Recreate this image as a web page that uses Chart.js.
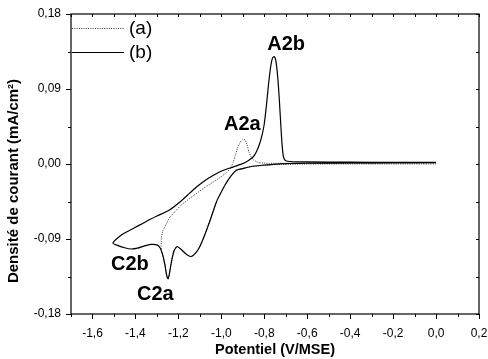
<!DOCTYPE html>
<html><head><meta charset="utf-8">
<script src="https://cdn.jsdelivr.net/npm/chart.js@4.4.0/dist/chart.umd.min.js"></script>
<style>html,body{margin:0;padding:0;background:#fff}#wrap{width:488px;height:359px}</style>
</head><body><div id="wrap"><canvas id="c" width="488" height="359"></canvas></div>
<script>
// ---- data ----
const seriesLabels = ['(a)', '(b)'];

// Curve (a): dotted, vertex near -1.28 V
const aPotential = [0.000,-0.300,-0.600,-0.720,-0.800,-0.860,-0.900,-0.930,-0.960,-0.980,-1.005,-1.022,-1.050,-1.077,-1.100,-1.120,-1.140,-1.160,-1.185,-1.206,-1.220,-1.232,-1.242,-1.248,-1.255,-1.262,-1.272,-1.280,
  -1.279,-1.272,-1.258,-1.240,-1.215,-1.190,-1.130,-1.070,-1.010,-0.975,-0.955,-0.945,-0.935,-0.925,-0.912,-0.900,-0.890,-0.880,-0.872,-0.862,-0.850,-0.830,-0.800,-0.600,-0.300,0.000];
const aCurrent = [0.0002,0.0002,0.0000,-0.0004,-0.0015,-0.0030,-0.0055,-0.0075,-0.0160,-0.0240,-0.0360,-0.0450,-0.0660,-0.0850,-0.0990,-0.1070,-0.1110,-0.1090,-0.1030,-0.0990,-0.1040,-0.1170,-0.1320,-0.1380,-0.1330,-0.1220,-0.1100,-0.1025,
  -0.0890,-0.0800,-0.0730,-0.0640,-0.0570,-0.0500,-0.0380,-0.0270,-0.0170,-0.0100,-0.0040,0.0020,0.0100,0.0190,0.0260,0.0300,0.0290,0.0230,0.0150,0.0090,0.0050,0.0020,0.0010,0.0006,0.0004,0.0004];

// Curve (b): solid, vertex near -1.50 V
const bPotential = [0.000,-0.200,-0.400,-0.600,-0.700,-0.760,-0.810,-0.860,-0.900,-0.930,-0.960,-0.980,-1.005,-1.022,-1.050,-1.077,-1.100,-1.120,-1.140,-1.160,-1.185,-1.206,-1.220,-1.232,-1.242,-1.248,-1.255,-1.262,-1.272,-1.284,-1.300,-1.330,-1.360,-1.390,-1.420,-1.450,-1.480,-1.505,
  -1.470,-1.430,-1.400,-1.350,-1.300,-1.240,-1.190,-1.147,-1.110,-1.069,-1.030,-0.990,-0.950,-0.910,-0.875,-0.850,-0.836,-0.822,-0.810,-0.800,-0.790,-0.780,-0.770,-0.762,-0.754,-0.746,-0.738,-0.730,-0.723,-0.717,-0.710,-0.700,-0.680,-0.600,-0.400,-0.200,0.000];
const bCurrent = [0.0018,0.0016,0.0013,0.0009,0.0004,-0.0004,-0.0015,-0.0030,-0.0055,-0.0075,-0.0160,-0.0240,-0.0360,-0.0450,-0.0660,-0.0850,-0.0990,-0.1070,-0.1110,-0.1090,-0.1030,-0.0990,-0.1040,-0.1170,-0.1320,-0.1380,-0.1330,-0.1220,-0.1100,-0.1010,-0.0970,-0.0965,-0.0985,-0.1010,-0.1020,-0.1005,-0.0980,-0.0950,
  -0.0860,-0.0800,-0.0760,-0.0690,-0.0625,-0.0550,-0.0450,-0.0350,-0.0265,-0.0185,-0.0125,-0.0075,-0.0040,-0.0005,0.0040,0.0090,0.0150,0.0240,0.0350,0.0480,0.0700,0.0960,0.1170,0.1270,0.1290,0.1240,0.1060,0.0780,0.0470,0.0230,0.0080,0.0040,0.0030,0.0025,0.0022,0.0020,0.0020];

const xTickValues = [-1.6,-1.4,-1.2,-1.0,-0.8,-0.6,-0.4,-0.2,0.0,0.2];
const xMinorTickValues = [-1.7,-1.5,-1.3,-1.1,-0.9,-0.7,-0.5,-0.3,-0.1,0.1];
const yTickValues = [-0.18,-0.09,0,0.09,0.18];
const yMinorTickValues = [-0.135,-0.045,0.045,0.135];

const peakLabels = ['A2a','A2b','C2a','C2b'];
const peakLabelPotential = [-0.902,-0.698,-1.307,-1.426];
const peakLabelCurrent = [0.047,0.143,-0.157,-0.121];

const xTitle = 'Potentiel (V/MSE)';
const yTitle = 'Densité de courant (mA/cm²)';
// --------------------------------------

const FONT = "'Liberation Sans', Arial, sans-serif";
Chart.defaults.font.family = FONT;
Chart.defaults.color = '#000';

function fmt(v, d) {
  const s = Math.abs(v) < 1e-9 ? (0).toFixed(d) : v.toFixed(d);
  return s.replace('.', ',');
}
function toPoints(xs, ys) { return xs.map((x, i) => ({x: x, y: ys[i]})); }

const decor = {
  id: 'decor',
  afterDatasetsDraw(chart) {
    const {ctx, chartArea, scales} = chart;
    const {left, right, top, bottom} = chartArea;
    const x = scales.x, y = scales.y;
    ctx.save();
    // frame
    ctx.strokeStyle = '#000';
    ctx.lineWidth = 1.2;
    ctx.strokeRect(left, top, right - left, bottom - top);
    ctx.lineWidth = 1;
    ctx.beginPath();
    xTickValues.forEach(v => {
      const p = Math.round(x.getPixelForValue(v)) + 0.5;
      ctx.moveTo(p, bottom); ctx.lineTo(p, bottom + 5);
      ctx.moveTo(p, top); ctx.lineTo(p, top + 3);
    });
    xMinorTickValues.forEach(v => {
      const p = Math.round(x.getPixelForValue(v)) + 0.5;
      ctx.moveTo(p, bottom); ctx.lineTo(p, bottom + 3);
      ctx.moveTo(p, top); ctx.lineTo(p, top + 3);
    });
    yTickValues.forEach(v => {
      const p = Math.round(y.getPixelForValue(v)) + 0.5;
      ctx.moveTo(left - 5, p); ctx.lineTo(left, p);
      ctx.moveTo(right - 3, p); ctx.lineTo(right, p);
    });
    yMinorTickValues.forEach(v => {
      const p = Math.round(y.getPixelForValue(v)) + 0.5;
      ctx.moveTo(left - 3, p); ctx.lineTo(left, p);
      ctx.moveTo(right - 3, p); ctx.lineTo(right, p);
    });
    ctx.stroke();

    // peak labels
    ctx.fillStyle = '#000';
    ctx.font = 'bold 20px ' + FONT;
    ctx.textAlign = 'center';
    ctx.textBaseline = 'middle';
    peakLabels.forEach((t, i) => {
      ctx.fillText(t, x.getPixelForValue(peakLabelPotential[i]), y.getPixelForValue(peakLabelCurrent[i]));
    });

    // legend (inside plot, top-left)
    chart.data.datasets.forEach((ds, i) => {
      const ly = top + 14 + i * 24;
      ctx.save();
      ctx.strokeStyle = ds.borderColor;
      ctx.lineWidth = ds.borderWidth;
      ctx.setLineDash(ds.borderDash || []);
      ctx.beginPath();
      ctx.moveTo(left + 1, ly + 0.5); ctx.lineTo(left + 53, ly + 0.5);
      ctx.stroke();
      ctx.restore();
      ctx.font = '19px ' + FONT;
      ctx.textAlign = 'left';
      ctx.textBaseline = 'middle';
      ctx.fillText(ds.label, left + 58, ly + 1);
    });

    // y axis title
    ctx.save();
    ctx.translate(14, 181);
    ctx.rotate(-Math.PI / 2);
    ctx.font = 'bold 15px ' + FONT;
    ctx.textAlign = 'center';
    ctx.textBaseline = 'middle';
    ctx.fillText(yTitle, 0, 0);
    ctx.restore();
    ctx.restore();
  }
};

new Chart(document.getElementById('c'), {
  type: 'scatter',
  data: {
    datasets: [
      {label: seriesLabels[0], data: toPoints(aPotential, aCurrent), showLine: true, pointRadius: 0,
       borderColor: '#333', borderWidth: 1, borderDash: [1, 1.3], tension: 0.2, order: 1},
      {label: seriesLabels[1], data: toPoints(bPotential, bCurrent), showLine: true, pointRadius: 0,
       borderColor: '#000', borderWidth: 1.2, tension: 0.2, order: 0}
    ]
  },
  options: {
    responsive: false,
    animation: false,
    devicePixelRatio: 1,
    layout: {padding: {top: 14, right: 9, left: 0, bottom: 0}},
    plugins: {legend: {display: false}, tooltip: {enabled: false}},
    scales: {
      x: {
        type: 'linear', min: -1.7, max: 0.2,
        afterBuildTicks: s => { s.ticks = xTickValues.map(v => ({value: v})); },
        afterFit: s => { s.height = 45; s.paddingLeft = 0; s.paddingRight = 0; },
        grid: {display: false, drawTicks: false},
        border: {display: false},
        ticks: {callback: v => fmt(v, 1), padding: 12, font: {size: 12}, color: '#000', maxRotation: 0, autoSkip: false},
        title: {display: true, text: xTitle, font: {size: 14.5, weight: 'bold'}, color: '#000', padding: {top: 0, bottom: 0}}
      },
      y: {
        type: 'linear', min: -0.18, max: 0.18,
        afterBuildTicks: s => { s.ticks = yTickValues.map(v => ({value: v})); },
        afterFit: s => { s.width = 71; s.paddingTop = 0; s.paddingBottom = 0; },
        grid: {display: false, drawTicks: false},
        border: {display: false},
        ticks: {callback: v => fmt(v, 2), padding: 10, font: {size: 12}, color: '#000', autoSkip: false},
        title: {display: false}
      }
    }
  },
  plugins: [decor]
});
</script></body></html>
